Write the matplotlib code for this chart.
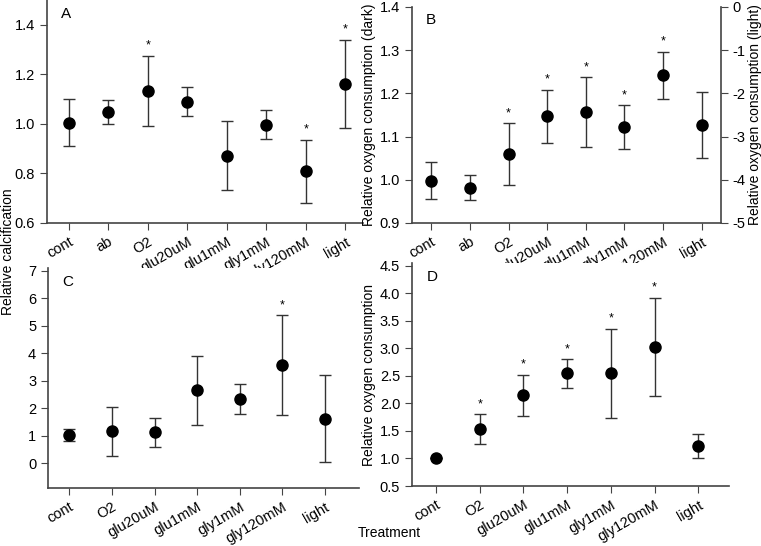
import matplotlib
matplotlib.use("Agg")
import matplotlib.pyplot as plt
import numpy as np

plt.rcParams['font.family'] = ['Liberation Sans', 'DejaVu Sans']
plt.rcParams['font.size'] = 10
plt.rcParams['axes.unicode_minus'] = False

# panel A: relative calcification
cats_a = ['cont', 'ab', 'O2', 'glu20uM', 'glu1mM', 'gly1mM', 'gly120mM', 'light']
a_mean = [1.005, 1.047, 1.133, 1.089, 0.872, 0.997, 0.808, 1.162]
a_hi = [1.100, 1.097, 1.274, 1.147, 1.013, 1.055, 0.935, 1.340]
a_lo = [0.910, 0.998, 0.992, 1.032, 0.732, 0.940, 0.680, 0.985]
a_star = [False, False, True, False, False, False, True, True]

# panel B: relative oxygen consumption (dark)
b_mean = [0.998, 0.982, 1.060, 1.147, 1.157, 1.122, 1.242, 1.127]
b_hi = [1.042, 1.012, 1.131, 1.208, 1.237, 1.172, 1.296, 1.204]
b_lo = [0.955, 0.953, 0.988, 1.085, 1.077, 1.071, 1.187, 1.051]
b_star = [False, False, True, True, True, True, True, False]

# panel C: relative calcification
cats_c = ['cont', 'O2', 'glu20uM', 'glu1mM', 'gly1mM', 'gly120mM', 'light']
c_mean = [1.02, 1.17, 1.14, 2.65, 2.35, 3.57, 1.62]
c_hi = [1.25, 2.05, 1.65, 3.90, 2.90, 5.38, 3.20]
c_lo = [0.80, 0.27, 0.60, 1.38, 1.80, 1.75, 0.03]
c_star = [False, False, False, False, False, True, False]

# panel D: relative oxygen consumption
d_mean = [1.00, 1.53, 2.15, 2.55, 2.55, 3.03, 1.22]
d_hi = [1.00, 1.80, 2.52, 2.80, 3.35, 3.92, 1.45]
d_lo = [1.00, 1.27, 1.78, 2.28, 1.74, 2.14, 1.00]
d_star = [False, True, True, True, True, True, False]

W, H = 761, 546
fig = plt.figure(figsize=(W / 100, H / 100), dpi=100)

def box(l, r, b, t):
    return [l / W, 1 - b / H, (r - l) / W, (b - t) / H]

spine_col = '#444444'
tick_fs = 10.5

def panel(rect, cats, mean, hi, lo, star, xlim, ylim, yticks, fmt, letter):
    ax = fig.add_axes(rect)
    x = np.arange(len(cats))
    mean = np.array(mean); hi = np.array(hi); lo = np.array(lo)
    ax.errorbar(x, mean, yerr=[mean - lo, hi - mean], fmt='o', color='black',
                ms=8, ecolor='#333333', elinewidth=1, capsize=4, capthick=1)
    for i in range(len(cats)):
        if star[i]:
            ax.annotate('*', (x[i], hi[i]), xytext=(0, 3), textcoords='offset points',
                        ha='center', va='bottom', fontsize=9)
    ax.set_xlim(*xlim)
    ax.set_ylim(*ylim)
    ax.set_xticks(x)
    ax.set_xticklabels(cats, rotation=30, ha='right', rotation_mode='anchor')
    ax.set_yticks(yticks)
    ax.set_yticklabels([fmt.format(v) for v in yticks])
    ax.spines['top'].set_visible(False)
    ax.spines['right'].set_visible(False)
    for s in ['left', 'bottom']:
        ax.spines[s].set_color(spine_col)
        ax.spines[s].set_linewidth(1.2)
    ax.tick_params(direction='out', length=5, color=spine_col, labelsize=tick_fs)
    ax.text(0.045, 0.97, letter, transform=ax.transAxes, ha='left', va='top', fontsize=11)
    return ax

axA = panel(box(47, 363, 223, 0), cats_a, a_mean, a_hi, a_lo, a_star,
            (-0.55, 7.45), (0.6, 1.5), [0.6, 0.8, 1.0, 1.2, 1.4], '{:.1f}', 'A')
axB = panel(box(412, 721, 223, 7), cats_a, b_mean, b_hi, b_lo, b_star,
            (-0.5, 7.5), (0.9, 1.4), [0.9, 1.0, 1.1, 1.2, 1.3, 1.4], '{:.1f}', 'B')
axB.set_ylabel('Relative oxygen consumption (dark)', fontsize=10, labelpad=3)
axB2 = axB.twinx()
axB2.set_ylim(-5, 0)
axB2.set_yticks([-5, -4, -3, -2, -1, 0])
axB2.spines['top'].set_visible(False)
axB2.spines['left'].set_visible(False)
axB2.spines['bottom'].set_visible(False)
axB2.spines['right'].set_color(spine_col)
axB2.spines['right'].set_linewidth(1.2)
axB2.tick_params(direction='out', length=5, pad=3, color=spine_col, labelsize=tick_fs)
axB2.set_ylabel('Relative oxygen consumption (light)', fontsize=10, labelpad=2)

axC = panel(box(48, 359, 488, 268), cats_c, c_mean, c_hi, c_lo, c_star,
            (-0.5, 6.8), (-0.9, 7.1), [0, 1, 2, 3, 4, 5, 6, 7], '{:d}', 'C')
axD = panel(box(412, 729, 486, 263), cats_c, d_mean, d_hi, d_lo, d_star,
            (-0.55, 6.7), (0.5, 4.55), [0.5, 1.0, 1.5, 2.0, 2.5, 3.0, 3.5, 4.0, 4.5], '{:.1f}', 'D')
axD.set_ylabel('Relative oxygen consumption', fontsize=10, labelpad=3)

fig.text(8 / W, 1 - 252 / H, 'Relative calcification', rotation=90,
         ha='center', va='center', fontsize=10)
fig.text(389 / W, 1 - 533 / H, 'Treatment', ha='center', va='center', fontsize=10)

fig.savefig('out.png', dpi=100)
